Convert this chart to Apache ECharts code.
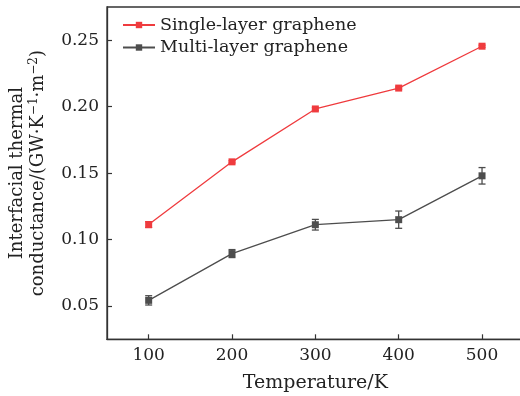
<!DOCTYPE html>
<html>
<head>
<meta charset="utf-8">
<script src="https://cdn.jsdelivr.net/npm/echarts@6/dist/echarts.min.js"></script>
<style>html,body{margin:0;padding:0;background:#fff;}#c{width:520px;height:396px;}</style>
</head>
<body>
<div id="c"></div>
<script>
const temps = [100, 200, 300, 400, 500];
const singleVals = [0.1113, 0.1585, 0.1983, 0.2140, 0.2455];
const singleErr = [0.0022, 0.0008, 0.0010, 0.0008, 0.0008];
const multiVals = [0.0543, 0.0895, 0.1112, 0.1150, 0.1480];
const multiErr = [0.0035, 0.0030, 0.0040, 0.0065, 0.0062];
const xTicks = [100, 200, 300, 400, 500];
const yTicks = [0.05, 0.10, 0.15, 0.20, 0.25];
const seriesNames = ['Single-layer graphene', 'Multi-layer graphene'];
const colors = ['#ef3b3e', '#4d4d4d'];

const FONT = 'DejaVu Serif';
const chart = echarts.init(document.getElementById('c'), null, {renderer: 'canvas'});

function pairs(vals) { return temps.map((t, i) => [t, vals[i]]); }
function errData(vals, errs) { return temps.map((t, i) => [t, vals[i] - errs[i], vals[i] + errs[i]]); }
function errRender(color) {
  return function (params, api) {
    const x = api.value(0);
    const lo = api.coord([x, api.value(1)]);
    const hi = api.coord([x, api.value(2)]);
    const hw = 3.5;
    const style = {stroke: color, lineWidth: 1.3, fill: null};
    return {
      type: 'group',
      children: [
        {type: 'line', shape: {x1: lo[0], y1: lo[1], x2: hi[0], y2: hi[1]}, style: style},
        {type: 'line', shape: {x1: lo[0] - hw, y1: lo[1], x2: lo[0] + hw, y2: lo[1]}, style: style},
        {type: 'line', shape: {x1: hi[0] - hw, y1: hi[1], x2: hi[0] + hw, y2: hi[1]}, style: style}
      ]
    };
  };
}

const option = {
  backgroundColor: '#fff',
  animation: false,
  textStyle: {fontFamily: FONT},
  legend: {
    left: 117, top: 11, orient: 'vertical', itemGap: 4.5,
    itemWidth: 32, itemHeight: 8,
    textStyle: {fontFamily: FONT, fontSize: 17.5, color: '#222'},
    data: seriesNames
  },
  grid: {
    left: 107, top: 7, width: 416.7, height: 332.3,
    containLabel: false, outerBoundsMode: 'none',
    show: true, borderColor: '#333', borderWidth: 1.3, backgroundColor: 'transparent'
  },
  xAxis: {
    type: 'value', min: 50, max: 550,
    name: 'Temperature/K', nameLocation: 'middle', nameGap: 34,
    nameTextStyle: {fontFamily: FONT, fontSize: 19, color: '#222'},
    axisLine: {show: true, lineStyle: {color: '#333', width: 1.3}},
    axisTick: {show: true, inside: true, length: 5, customValues: xTicks, lineStyle: {color: '#333', width: 1.2}},
    axisLabel: {customValues: xTicks, margin: 8, fontFamily: FONT, fontSize: 17, color: '#222'},
    splitLine: {show: false}
  },
  yAxis: {
    type: 'value', min: 0.025, max: 0.275,
    name: 'Interfacial thermal\nconductance/(GW·K{sup|−1}·m{sup|−2})', nameLocation: 'middle', nameGap: 58, nameRotate: 90,
    nameTextStyle: {fontFamily: FONT, fontSize: 18, color: '#222', lineHeight: 21,
      rich: {sup: {fontFamily: FONT, fontSize: 12, color: '#222', verticalAlign: 'top', lineHeight: 21}}},
    axisLine: {show: true, lineStyle: {color: '#333', width: 1.3}},
    axisTick: {show: true, inside: true, length: 5, customValues: yTicks, lineStyle: {color: '#333', width: 1.2}},
    axisLabel: {customValues: yTicks, margin: 8, fontFamily: FONT, fontSize: 17, color: '#222',
      formatter: v => v.toFixed(2)},
    splitLine: {show: false}
  },
  series: [
    {
      name: seriesNames[0], type: 'line', data: pairs(singleVals),
      symbol: 'rect', symbolSize: 7, color: colors[0],
      lineStyle: {color: colors[0], width: 1.3}, itemStyle: {color: colors[0]}, z: 3
    },
    {
      name: seriesNames[1], type: 'line', data: pairs(multiVals),
      symbol: 'rect', symbolSize: 7, color: colors[1],
      lineStyle: {color: colors[1], width: 1.3}, itemStyle: {color: colors[1]}, z: 3
    },
    {type: 'custom', data: errData(singleVals, singleErr), renderItem: errRender(colors[0]), z: 2, silent: true},
    {type: 'custom', data: errData(multiVals, multiErr), renderItem: errRender(colors[1]), z: 2, silent: true}
  ]
};
chart.setOption(option);
</script>
</body>
</html>
